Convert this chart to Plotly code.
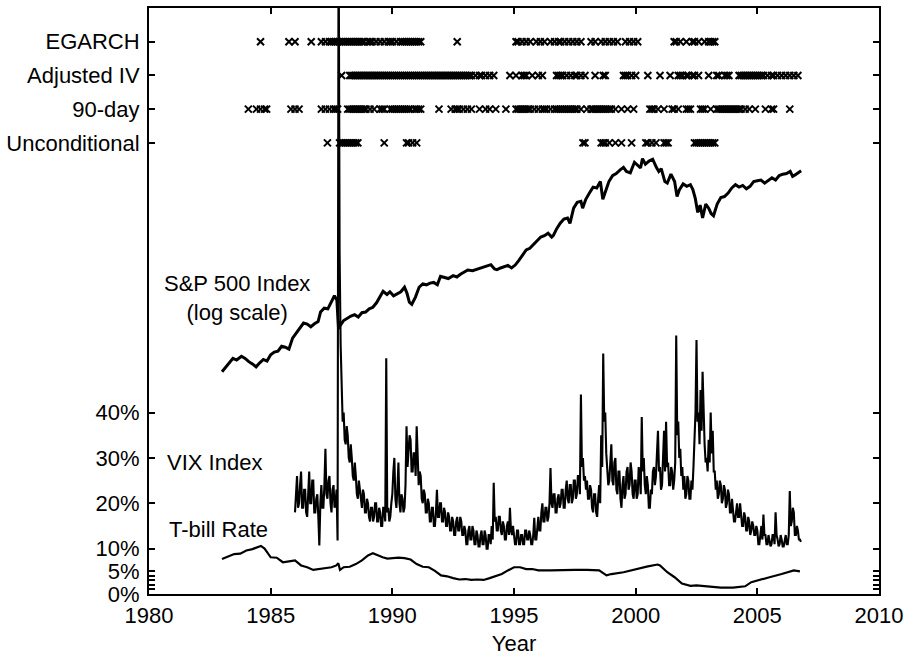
import plotly.graph_objects as go

# ---------------- data ----------------
year_ticks = [1980, 1985, 1990, 1995, 2000, 2005, 2010]
pct_tickvals = [0, 5, 10, 20, 30, 40]
pct_ticktext = ["0%", "5%", "10%", "20%", "30%", "40%"]
pct_minor = [1, 2, 3, 4]

row_names = ["Unconditional", "90-day", "Adjusted IV", "EGARCH"]

# monthly flags (Jan..Dec) for each year 1983..2006 : 1 = marker shown
flag_start_year = 1983
egarch_flags = [
    "000000000000", "000000010000", "000000000100", "100000001000",
    "010101111111", "111111111110", "111010101011", "101011111111",
    "111000000000", "000000001000", "000000000000", "000000000000",
    "011010101001", "010100101011", "010101010100", "001010010101",
    "010100010101", "010000000000", "000000011010", "010011010010",
    "111100000000", "000000000000", "000000000000", "000000000000",
]
adjiv_flags = [
    "000000000000", "000000000000", "000000000000", "000000000000",
    "000000000001", "000111111111", "111111111111", "111111111111",
    "111111111111", "111111111111", "111101011010", "101000000010",
    "010011100100", "101000000111", "101010110101", "000010001100",
    "000000111010", "100000100000", "100001000111", "011011010000",
    "100011001110", "000111111111", "111101011010", "101010101000",
]
day90_flags = [
    "000000000000", "010001010110", "000000000010", "101000000000",
    "010101011100", "001111111111", "010100111001", "111111111101",
    "111000000001", "000001011101", "010100010010", "100100001000",
    "011111111010", "101110101111", "111111110100", "101111111111",
    "101001001001", "000000011101", "001000110100", "011100001110",
    "010011111111", "111110101001", "000010011000", "000010000000",
]
uncond_flags = [
    "000000000000", "000000000000", "000000000000", "000000000000",
    "000010000011", "111111110000", "000000001000", "000000011010",
    "100000000000", "000000000000", "000000000000", "000000000000",
    "000000000000", "000000000000", "000000000011", "000000011101",
    "001001000010", "000001101010", "001110000000", "000001111111",
    "111100000000", "000000000000", "000000000000", "000000000000",
]

# S&P 500 index level (log scale)
sp_years = [
    1983.0, 1983.15, 1983.3, 1983.45, 1983.6, 1983.8, 1983.95,
    1984.1, 1984.25, 1984.4, 1984.55, 1984.7, 1984.85,
    1985.0, 1985.15, 1985.3, 1985.45, 1985.6, 1985.75, 1985.9,
    1986.05, 1986.2, 1986.35, 1986.5, 1986.65, 1986.8, 1986.95,
    1987.05, 1987.2, 1987.35, 1987.5, 1987.62, 1987.72, 1987.79, 1987.83, 1987.9,
    1988.0, 1988.15, 1988.3, 1988.45, 1988.6, 1988.75, 1988.9,
    1989.05, 1989.2, 1989.35, 1989.5, 1989.62, 1989.78, 1989.9,
    1990.05, 1990.2, 1990.35, 1990.5, 1990.6, 1990.7, 1990.8, 1990.95,
    1991.1, 1991.25, 1991.4, 1991.55, 1991.7, 1991.85, 1991.98,
    1992.15, 1992.3, 1992.5, 1992.65, 1992.8, 1992.95,
    1993.1, 1993.3, 1993.5, 1993.7, 1993.9,
    1994.05, 1994.2, 1994.3, 1994.45, 1994.6, 1994.75, 1994.9,
    1995.05, 1995.2, 1995.35, 1995.5, 1995.65, 1995.8, 1995.95,
    1996.1, 1996.25, 1996.4, 1996.55, 1996.62, 1996.75, 1996.9,
    1997.05, 1997.2, 1997.3, 1997.45, 1997.6, 1997.75, 1997.82, 1997.95,
    1998.1, 1998.25, 1998.4, 1998.55, 1998.65, 1998.75, 1998.9,
    1999.05, 1999.2, 1999.35, 1999.5, 1999.62, 1999.78, 1999.95,
    2000.1, 2000.2, 2000.28, 2000.4, 2000.55, 2000.7, 2000.85, 2000.95,
    2001.05, 2001.2, 2001.3, 2001.45, 2001.6, 2001.7, 2001.8, 2001.95,
    2002.1, 2002.25, 2002.35, 2002.45, 2002.55, 2002.65, 2002.75, 2002.88,
    2003.0, 2003.1, 2003.2, 2003.35, 2003.5, 2003.65, 2003.8, 2003.95,
    2004.1, 2004.25, 2004.4, 2004.55, 2004.7, 2004.85,
    2005.0, 2005.15, 2005.3, 2005.45, 2005.6, 2005.75, 2005.9,
    2006.05, 2006.2, 2006.35, 2006.45, 2006.55, 2006.7, 2006.8,
]
sp_values = [
    145, 152, 160, 168, 165, 172, 168,
    162, 158, 153, 160, 166, 163,
    175, 180, 182, 192, 190, 186, 210,
    222, 235, 248, 245, 238, 246, 252,
    280, 292, 290, 312, 335, 320, 232, 252, 245,
    255, 262, 268, 272, 265, 278, 280,
    290, 295, 310, 335, 352, 340, 350,
    335, 342, 350, 368, 345, 312, 305, 330,
    368, 382, 378, 385, 388, 378, 415,
    410, 405, 418, 412, 425, 435,
    445, 442, 450, 458, 465,
    472, 450, 447, 455, 460, 468, 455,
    470, 495, 525, 555, 565, 590, 612,
    640, 650, 668, 640, 652, 700, 745,
    780, 790, 745, 880, 940, 950, 880, 970,
    1040, 1110, 1100, 1180, 970, 1050, 1180,
    1260, 1290, 1340, 1380, 1320, 1300, 1460,
    1400, 1370, 1520, 1430, 1480, 1510, 1380, 1320,
    1360, 1180, 1160, 1280, 1180, 1000, 1080, 1150,
    1120, 1140, 1080, 980, 840, 910, 790, 920,
    880, 830, 810, 920, 990, 1000, 1040, 1100,
    1140, 1110, 1130, 1090, 1120, 1180,
    1190, 1200, 1160, 1200, 1230, 1200, 1260,
    1280, 1290, 1320, 1250, 1270, 1300, 1330,
]

# VIX index (%), twice a month from Jan 1986
vix_start_year = 1986
vix_values = [
    18, 22, 26, 19, 20, 24, 27, 19, 19, 23, 23, 18, 17, 22, 27, 20, 20, 25, 25, 18, 18, 21, 22, 17,            # 1986
    10.7, 20, 24, 19, 19, 24, 32, 22, 21, 25, 26, 20, 18, 23, 24, 19, 20, 23, 11.8, 150, 75, 55, 45, 38,       # 1987
    40, 34, 33, 37, 35, 30, 29, 33, 30, 26, 25, 29, 26, 22, 21, 25, 23, 20, 19, 23, 22, 18, 18, 21,            # 1988
    20, 17, 16, 19, 19, 16, 17, 20, 20, 16, 16, 19, 18, 15, 15, 19, 19, 16, 52, 18, 19, 16, 17, 20,            # 1989
    22, 27, 30, 21, 19, 23, 29, 20, 18, 22, 21, 18, 19, 24, 37, 28, 31, 35, 34, 27, 27, 31, 31, 26,            # 1990
    37, 28, 24, 27, 26, 21, 20, 23, 22, 18, 18, 21, 20, 16, 16, 19, 19, 15, 15, 18, 23, 17, 17, 20,            # 1991
    20, 16, 16, 19, 18, 15, 15, 18, 17, 14, 14, 17, 16, 13, 13, 16, 17, 14, 14, 17, 16, 13, 13, 15,            # 1992
    14, 11, 11, 14, 15, 12, 12, 15, 14, 11, 11, 14, 13, 10.5, 10.5, 13, 14, 11, 11, 14, 13, 10, 10, 13,        # 1993
    13, 11, 15, 12, 24.5, 16, 17, 14, 14, 17, 17, 14, 13, 16, 15, 12, 12, 15, 16, 13, 19, 14, 13, 15,          # 1994
    13, 11, 11, 14, 14, 11, 11, 13, 13, 11, 11, 14, 14, 12, 12, 14, 13, 11, 11, 13, 16.8, 12, 12, 14,          # 1995
    17, 14, 14, 18, 20, 16, 16, 19, 19, 16, 17, 20, 27.8, 20, 19, 22, 22, 18, 18, 21, 22, 19, 20, 23,          # 1996
    23, 19, 19, 23, 25, 21, 20, 24, 24, 20, 21, 25, 25, 21, 22, 26, 26, 22, 44, 28, 30, 25, 26, 23,            # 1997
    25, 21, 21, 24, 23, 19, 18, 22, 22, 18, 17, 21, 24, 20, 35, 28, 53, 38, 40, 31, 28, 24, 25, 30,            # 1998
    33, 25, 24, 29, 30, 23, 22, 27, 27, 21, 19, 24, 26, 21, 22, 27, 28, 23, 24, 29, 27, 22, 21, 25,            # 1999
    25, 21, 22, 28, 26, 22, 39, 27, 30, 24, 22, 26, 24, 19, 19, 23, 22, 27, 28, 24, 26, 31, 36, 27,            # 2000
    28, 23, 24, 30, 36, 27, 38, 28, 29, 24, 24, 28, 27, 23, 25, 29, 57, 35, 38, 30, 32, 26, 28, 23,            # 2001
    26, 21, 22, 26, 25, 21, 21, 25, 23, 28, 33, 40, 56, 38, 40, 33, 45, 36, 49, 38, 33, 29, 30, 27,            # 2002
    34, 29, 40, 31, 36, 27, 27, 23, 25, 21, 22, 25, 24, 20, 21, 24, 23, 19, 20, 23, 22, 18, 18, 21,            # 2003
    19, 16, 16, 19, 20, 17, 17, 20, 18, 15, 15, 18, 17, 14, 14, 17, 16, 13, 14, 16, 15, 13, 13, 15,            # 2004
    14, 11, 11, 13, 15, 12, 17.5, 13, 13, 11, 11, 13, 12, 10.5, 11, 13, 13, 11, 18, 13, 12, 10.5, 11, 13,      # 2005
    12, 10.5, 10.5, 12, 13, 11, 11, 13, 22.7, 15, 16, 19, 18, 13, 13, 15, 14, 12, 12, 11.5,                    # 2006
]

# 3-month T-bill rate (%)
tbill_years = [
    1983.0, 1983.25, 1983.5, 1983.75,
    1984.0, 1984.25, 1984.5, 1984.6, 1984.75,
    1985.0, 1985.25, 1985.5, 1985.75,
    1986.0, 1986.25, 1986.5, 1986.75,
    1987.0, 1987.25, 1987.5, 1987.7, 1987.78, 1987.85,
    1988.0, 1988.25, 1988.5, 1988.75,
    1989.0, 1989.2, 1989.4, 1989.6, 1989.8,
    1990.0, 1990.25, 1990.5, 1990.75,
    1991.0, 1991.25, 1991.5, 1991.75,
    1992.0, 1992.25, 1992.5, 1992.75,
    1993.0, 1993.25, 1993.5, 1993.75,
    1994.0, 1994.25, 1994.5, 1994.75,
    1995.0, 1995.25, 1995.5, 1995.75,
    1996.0, 1996.5, 1997.0, 1997.5,
    1998.0, 1998.5, 1998.8, 1999.0, 1999.5,
    2000.0, 2000.5, 2000.9,
    2001.0, 2001.3, 2001.6, 2001.9,
    2002.25, 2002.5, 2002.9, 2003.0, 2003.5,
    2004.0, 2004.5, 2004.75, 2005.0, 2005.5,
    2006.0, 2006.5, 2006.75,
]
tbill_values = [
    7.7, 8.3, 8.8, 8.9,
    9.6, 9.9, 10.4, 10.6, 10.0,
    8.1, 8.0, 7.0, 7.2,
    7.4, 6.3, 5.9, 5.3,
    5.5, 5.6, 5.9, 6.3, 6.8, 5.3,
    5.9, 6.0, 6.6, 7.4,
    8.5, 9.0, 8.5, 8.1, 7.8,
    7.9, 8.0, 7.9, 7.6,
    6.6, 6.0, 5.9, 5.1,
    4.1, 3.9, 3.5, 3.2,
    3.3, 3.1, 3.2, 3.1,
    3.5, 4.0, 4.4, 5.2,
    5.9, 5.9, 5.5, 5.5,
    5.2, 5.2, 5.3, 5.3,
    5.3, 5.2, 4.1, 4.4, 4.8,
    5.5, 6.1, 6.5,
    6.3, 4.8, 3.7, 2.3,
    1.8, 1.9, 1.7, 1.7, 1.4,
    1.4, 1.7, 2.6, 3.0, 3.7,
    4.4, 5.2, 5.0,
]

# ---------------- figure ----------------
FONT = "Liberation Sans, Arial, Helvetica, sans-serif"
FS = 22
fig = go.Figure()

vix_x = [vix_start_year + i / 24 for i in range(len(vix_values))]
fig.add_trace(go.Scatter(x=vix_x, y=vix_values, mode="lines",
                         line=dict(color="black", width=2.1), yaxis="y",
                         hoverinfo="skip"))
fig.add_trace(go.Scatter(x=tbill_years, y=tbill_values, mode="lines",
                         line=dict(color="black", width=2.2), yaxis="y",
                         hoverinfo="skip"))
fig.add_trace(go.Scatter(x=sp_years, y=sp_values, mode="lines",
                         line=dict(color="black", width=3), yaxis="y2",
                         hoverinfo="skip"))

for name, flags in zip(row_names, [uncond_flags, day90_flags, adjiv_flags, egarch_flags]):
    xs = []
    for yi, s in enumerate(flags):
        for mi, ch in enumerate(s):
            if ch == "1":
                xs.append(flag_start_year + yi + mi / 12)
    fig.add_trace(go.Scatter(x=xs, y=[name] * len(xs), mode="markers", yaxis="y3",
                             marker=dict(symbol="x-thin", size=7, color="black",
                                         line=dict(width=2, color="black")),
                             hoverinfo="skip"))

axis_common = dict(showgrid=False, zeroline=False, ticks="inside", ticklen=6,
                   tickwidth=2, tickcolor="black", showline=True, linewidth=2,
                   linecolor="black", mirror="ticks",
                   tickfont=dict(family=FONT, size=FS, color="black"))

fig.update_layout(
    width=909, height=658,
    margin=dict(l=149, r=27, t=6, b=61),
    paper_bgcolor="white", plot_bgcolor="white",
    showlegend=False,
    font=dict(family=FONT, size=FS, color="black"),
    xaxis=dict(range=[1980, 2010], tickvals=year_ticks, ticklabelstandoff=1,
               title=dict(text="Year", standoff=8,
                          font=dict(family=FONT, size=FS, color="black")),
               **axis_common),
    yaxis=dict(range=[0, 129.2], tickvals=pct_tickvals, ticktext=pct_ticktext,
               ticklabelstandoff=3,
               minor=dict(tickvals=pct_minor, ticks="inside", ticklen=6,
                          tickwidth=1.5, tickcolor="black"),
               **axis_common),
    yaxis2=dict(type="log", range=[1.097, 3.903], overlaying="y", visible=False),
    yaxis3=dict(type="category", categoryorder="array", categoryarray=row_names,
                range=[-13.38, 4.0], overlaying="y", side="left", anchor="x",
                ticklabelstandoff=3,
                **axis_common),
    annotations=[
        dict(x=1983.6, y=65.2, xref="x", yref="y", showarrow=False,
             text="S&P 500 Index<br>(log scale)", align="center",
             font=dict(family=FONT, size=FS, color="black")),
        dict(x=1982.70, y=28.9, xref="x", yref="y", showarrow=False,
             text="VIX Index", font=dict(family=FONT, size=FS, color="black")),
        dict(x=1982.87, y=14.2, xref="x", yref="y", showarrow=False,
             text="T-bill Rate", font=dict(family=FONT, size=FS, color="black")),
    ],
)

fig.write_html("out.html", config={"displayModeBar": False},
               post_script="document.body.style.margin='0';document.body.style.padding='0';")
